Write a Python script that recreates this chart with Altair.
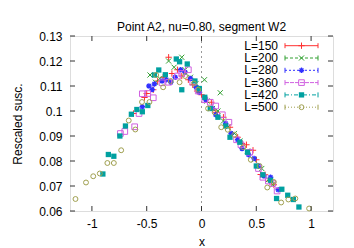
import altair as alt
import pandas as pd

# ---------------- data ----------------
labels = ["L=150", "L=200", "L=280", "L=360", "L=420", "L=500"]

x150 = [-0.62, -0.52, -0.50, -0.44, -0.40, -0.35, -0.30, -0.27, -0.22, -0.18, -0.12, -0.08, -0.04,
        0.00, 0.04, 0.09, 0.13, 0.20, 0.26, 0.33, 0.37, 0.41, 0.47, 0.50, 0.54, 0.58, 0.62, 0.66]
y150 = [0.099, 0.1054, 0.107, 0.1085, 0.112, 0.1135, 0.1215, 0.115, 0.1165, 0.114, 0.1125, 0.1105, 0.108,
        0.1065, 0.1045, 0.1035, 0.0995, 0.0975, 0.0935, 0.0895, 0.087, 0.0865, 0.0843, 0.0805, 0.0746, 0.0745, 0.072, 0.0705]

x200 = [-0.47, -0.42, -0.38, -0.30, -0.25, -0.18, -0.15, -0.10, -0.05, -0.02, 0.027, 0.05, 0.10,
        0.15, 0.171, 0.20, 0.24, 0.30, 0.35, 0.42, 0.48, 0.55, 0.61, 0.65]
y200 = [0.1144, 0.1115, 0.113, 0.120, 0.1175, 0.1215, 0.1165, 0.1135, 0.111, 0.1085, 0.1125, 0.104, 0.101,
        0.100, 0.1073, 0.096, 0.0935, 0.091, 0.088, 0.084, 0.0805, 0.077, 0.0725, 0.0705]

x280 = [-0.54, -0.48, -0.45, -0.43, -0.36, -0.32, -0.28, -0.24, -0.19, -0.15, -0.10, -0.05, -0.02,
        0.04, 0.10, 0.13, 0.22, 0.27, 0.33, 0.37, 0.43, 0.48, 0.52, 0.57, 0.63, 0.70]
y280 = [0.1017, 0.110, 0.1086, 0.1108, 0.112, 0.1125, 0.1115, 0.1135, 0.1165, 0.1155, 0.113, 0.1095, 0.1075,
        0.1045, 0.101, 0.0985, 0.095, 0.091, 0.0885, 0.085, 0.0825, 0.081, 0.078, 0.074, 0.0735, 0.0685]

x360 = [-0.74, -0.70, -0.61, -0.57, -0.54, -0.49, -0.44, -0.36, -0.30, -0.22, -0.18, -0.12, -0.08,
        -0.03, 0.03, 0.08, 0.13, 0.19, 0.25, 0.32, 0.36, 0.44, 0.52, 0.56, 0.61, 0.65, 0.69]
y360 = [0.091, 0.0918, 0.0937, 0.099, 0.1069, 0.107, 0.1053, 0.1113, 0.1115, 0.114, 0.115, 0.1165, 0.1115,
        0.108, 0.1045, 0.1035, 0.102, 0.0985, 0.0955, 0.0885, 0.0865, 0.0835, 0.077, 0.0735, 0.072, 0.071, 0.068]

x420 = [-0.90, -0.85, -0.80, -0.745, -0.694, -0.64, -0.59, -0.54, -0.49, -0.43, -0.39, -0.33, -0.23,
        -0.20, -0.18, -0.13, -0.06, -0.02, 0.03, 0.08, 0.15, 0.22, 0.26, 0.35, 0.42, 0.50, 0.56, 0.63,
        0.685, 0.733, 0.787, 0.838, 0.889]
y420 = [0.0748, 0.0826, 0.0819, 0.090, 0.094, 0.0987, 0.1006, 0.0997, 0.1022, 0.1144, 0.1164, 0.1145, 0.1208,
        0.1197, 0.1085, 0.1188, 0.112, 0.109, 0.1055, 0.101, 0.0975, 0.094, 0.0895, 0.0875, 0.0835, 0.078, 0.0745, 0.0723,
        0.065, 0.0687, 0.0663, 0.0646, 0.0616]

x500 = [-1.15, -1.054, -0.988, -0.928, -0.859, -0.80, -0.733, -0.664, -0.604, -0.543, -0.475, -0.414, -0.35,
        -0.28, -0.20, -0.15, -0.07, -0.03, 0.06, 0.12, 0.18, 0.24, 0.30, 0.38, 0.45, 0.53, 0.60, 0.66,
        0.727, 0.793, 0.856, 0.982]
y500 = [0.0648, 0.0714, 0.0739, 0.075, 0.0792, 0.0792, 0.0843, 0.0962, 0.0926, 0.1036, 0.1036, 0.1144, 0.1095,
        0.112, 0.1115, 0.114, 0.111, 0.1085, 0.101, 0.0995, 0.0935, 0.0925, 0.0905, 0.0855, 0.0805, 0.078, 0.0694, 0.0716,
        0.0634, 0.0646, 0.065, 0.061]

xs_all = [x150, x200, x280, x360, x420, x500]
ys_all = [y150, y200, y280, y360, y420, y500]

x_ticks = [-1, -0.5, 0, 0.5, 1]
y_ticks = [0.06, 0.07, 0.08, 0.09, 0.1, 0.11, 0.12, 0.13]

# ---------------- styles ----------------
PLUS = "M-1,0L1,0M0,-1L0,1"
CROSS = "M-1,-1L1,1M-1,1L1,-1"
STAR = "M-1,0L1,0M0,-1L0,1M-0.7,-0.7L0.7,0.7M-0.7,0.7L0.7,-0.7"
styles = [
    dict(color="#ff3030", shape=PLUS, filled=False, size=40, sw=1.0, dash=[1, 0]),
    dict(color="#30a030", shape=CROSS, filled=False, size=26, sw=1.0, dash=[3, 2]),
    dict(color="#3030ff", shape=STAR, filled=False, size=30, sw=1.3, dash=[2, 2]),
    dict(color="#d060e0", shape="square", filled=False, size=32, sw=1.0, dash=[4, 1]),
    dict(color="#00a0a0", shape="square", filled=True, size=28, sw=0, dash=[4, 2, 1, 2]),
    dict(color="#a0a050", shape="circle", filled=False, size=24, sw=1.0, dash=[1, 2]),
]

W, H = 263, 175
FONT = "Liberation Sans"
xscale = alt.Scale(domain=[-1.2, 1.2], nice=False, zero=False)
yscale = alt.Scale(domain=[0.06, 0.13], nice=False, zero=False)
xaxis = alt.Axis(values=x_ticks, labelExpr="toString(datum.value)", grid=False, ticks=False, tickSize=0,
                 domain=False, labelPadding=7, labelFontSize=12, labelFont=FONT, labelColor="black",
                 title="x", titleFontSize=12, titleFont=FONT, titleFontWeight="normal", titlePadding=7,
                 titleColor="black")
yaxis = alt.Axis(values=y_ticks, labelExpr="toString(datum.value)", grid=False, ticks=False, tickSize=0,
                 domain=False, labelPadding=8, labelFontSize=12, labelFont=FONT, labelColor="black",
                 title="Rescaled susc.", titleFontSize=12, titleFont=FONT, titleFontWeight="normal",
                 titlePadding=14, titleColor="black")

layers = []

# zero line
layers.append(alt.Chart(pd.DataFrame({"v": [0]})).mark_rule(color="#999999", strokeDash=[2, 3], strokeWidth=1)
              .encode(x=alt.X("v:Q", scale=xscale, axis=xaxis)))

# data points
for lab, xv, yv, st in zip(labels, xs_all, ys_all, styles):
    df = pd.DataFrame({"x": xv, "y": yv, "L": lab})
    layers.append(alt.Chart(df).mark_point(shape=st["shape"], filled=st["filled"], size=st["size"],
                                           color=st["color"], opacity=1,
                                           strokeWidth=st["sw"] if not st["filled"] else 0)
                  .encode(x=alt.X("x:Q", scale=xscale, axis=xaxis),
                          y=alt.Y("y:Q", scale=yscale, axis=yaxis)))

# inward ticks (mirror on all sides)
xt = pd.DataFrame({"v": x_ticks})
yt = pd.DataFrame({"w": y_ticks})
tick_col = "#333333"
layers.append(alt.Chart(xt).mark_rule(color=tick_col).encode(
    x=alt.X("v:Q", scale=xscale, axis=xaxis), y=alt.value(H), y2=alt.value(H - 5)))
layers.append(alt.Chart(xt).mark_rule(color=tick_col).encode(
    x=alt.X("v:Q", scale=xscale, axis=xaxis), y=alt.value(0), y2=alt.value(5)))
layers.append(alt.Chart(yt).mark_rule(color=tick_col).encode(
    y=alt.Y("w:Q", scale=yscale, axis=yaxis), x=alt.value(0), x2=alt.value(5)))
layers.append(alt.Chart(yt).mark_rule(color=tick_col).encode(
    y=alt.Y("w:Q", scale=yscale, axis=yaxis), x=alt.value(W), x2=alt.value(W - 5)))

# legend (gnuplot style: label left, sample line with caps and marker on the right)
leg = pd.DataFrame({"L": labels, "row": list(range(len(labels)))})
for i, (lab, st) in enumerate(zip(labels, styles)):
    base = alt.Chart(leg).transform_filter(alt.datum.row == i).transform_calculate(
        ly="9.7 + datum.row * 12.3", ly0="9.7 + datum.row * 12.3 - 2.5", ly1="9.7 + datum.row * 12.3 + 2.5")
    layers.append(base.mark_text(align="right", baseline="middle", fontSize=12, font=FONT, color="black")
                  .encode(x=alt.value(208), y=alt.Y("ly:Q", scale=None), text="L:N"))
    layers.append(base.mark_rule(color=st["color"], strokeDash=st["dash"], strokeWidth=1)
                  .encode(x=alt.value(215), x2=alt.value(248), y=alt.Y("ly:Q", scale=None)))
    for cx in (215, 248):
        layers.append(base.mark_rule(color=st["color"], strokeWidth=1)
                      .encode(x=alt.value(cx), y=alt.Y("ly0:Q", scale=None), y2="ly1:Q"))
    layers.append(base.mark_point(shape=st["shape"], filled=st["filled"], size=st["size"], color=st["color"],
                                  opacity=1, strokeWidth=st["sw"] if not st["filled"] else 0)
                  .encode(x=alt.value(231.5), y=alt.Y("ly:Q", scale=None)))

chart = alt.layer(*layers).properties(
    width=W, height=H,
    title=alt.TitleParams("Point A2, nu=0.80, segment W2", fontSize=12, font=FONT, fontWeight="normal",
                          anchor="middle", offset=0, dy=4, color="black"),
    autosize=alt.AutoSizeParams(type="none"),
    padding={"left": 62, "top": 28, "right": 13, "bottom": 38},
).configure_view(stroke="#333333", strokeWidth=1).configure(background="white")

chart.save("out.html", embed_options={"renderer": "svg", "actions": False})
